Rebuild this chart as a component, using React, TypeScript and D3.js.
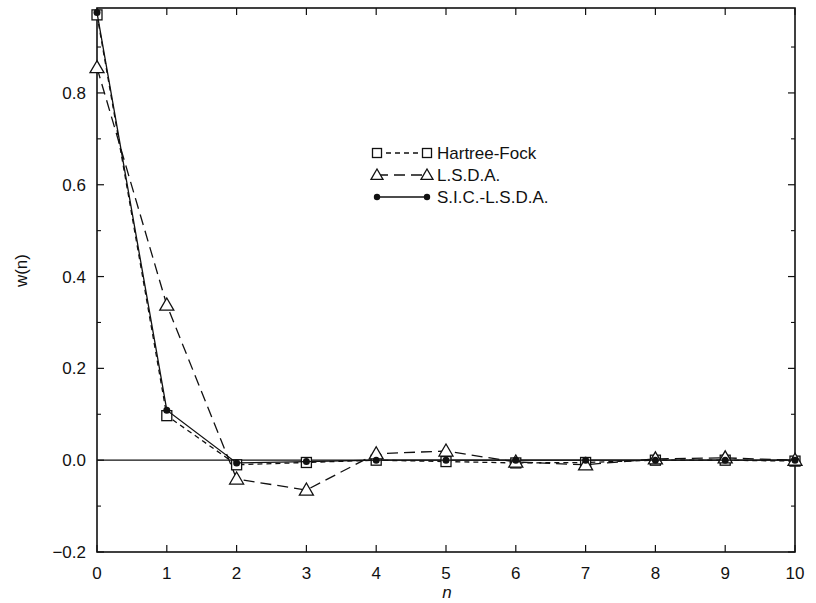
import React from 'react';
import * as d3 from 'd3';

// values
const nValues = [0, 1, 2, 3, 4, 5, 6, 7, 8, 9, 10];
const hartreeFock = [0.97, 0.097, -0.01, -0.005, 0.0, -0.003, -0.006, -0.005, 0.0, 0.0, -0.002];
const lsda = [0.855, 0.338, -0.041, -0.065, 0.014, 0.02, -0.004, -0.01, 0.003, 0.005, 0.0];
const sicLsda = [0.975, 0.109, -0.006, -0.003, 0.0, 0.0, 0.0, 0.0, 0.0, 0.0, 0.0];

const yTickLabels = [-0.2, 0.0, 0.2, 0.4, 0.6, 0.8];
const yMinorTicks = [-0.1, 0.1, 0.3, 0.5, 0.7, 0.9];
const legendNames = ['Hartree-Fock', 'L.S.D.A.', 'S.I.C.-L.S.D.A.'];

const W = 816;
const H = 603;
const font = 'Liberation Sans, Arial, Helvetica, sans-serif';

const Square = ({ x, y, s = 5 }: { x: number; y: number; s?: number }) => (
  <rect x={x - s} y={y - s} width={2 * s} height={2 * s} fill="white" stroke="#111" strokeWidth={1.3} />
);

const Triangle = ({ x, y, s = 7 }: { x: number; y: number; s?: number }) => (
  <path
    d={`M${x},${y - s}L${x + s},${y + s * 0.72}L${x - s},${y + s * 0.72}Z`}
    fill="white"
    stroke="#111"
    strokeWidth={1.3}
  />
);

const Dot = ({ x, y, s = 3.5 }: { x: number; y: number; s?: number }) => <circle cx={x} cy={y} r={s} fill="#111" />;

const App = () => {
  const xScale = d3.scaleLinear().domain([0, 10]).range([97, 795]);
  const yScale = d3.scaleLinear().domain([-0.2, 0.985]).range([552, 8]);

  const [x0, x1] = xScale.range();
  const [yb, yt] = yScale.range();

  const line = (vals: number[]) =>
    d3.line<number>()
      .x((_, i) => xScale(nValues[i]))
      .y((d) => yScale(d))(vals) || '';

  const series = [
    { vals: hartreeFock, dash: '5,4', Marker: Square, ls: 4.5 },
    { vals: lsda, dash: '11,6', Marker: Triangle, ls: 6 },
    { vals: sicLsda, dash: '', Marker: Dot, ls: 3.2 },
  ];

  const legendX = 377;
  const legendX2 = 427;
  const legendY = [153, 175, 197];

  return (
    <svg width={W} height={H} style={{ position: 'absolute', left: 0, top: 0, background: 'white' }}>
      {/* frame */}
      <rect x={x0} y={yt} width={x1 - x0} height={yb - yt} fill="none" stroke="#111" strokeWidth={1.6} />
      {/* zero line */}
      <line x1={x0} x2={x1} y1={yScale(0)} y2={yScale(0)} stroke="#111" strokeWidth={1.3} />

      {/* x ticks */}
      {nValues.map((n) => (
        <g key={'xt' + n}>
          <line x1={xScale(n)} x2={xScale(n)} y1={yb} y2={yb - 7} stroke="#111" strokeWidth={1.2} />
          <line x1={xScale(n)} x2={xScale(n)} y1={yt} y2={yt + 7} stroke="#111" strokeWidth={1.2} />
          <text x={xScale(n)} y={579} textAnchor="middle" fontFamily={font} fontSize={17} fill="#111">
            {n}
          </text>
        </g>
      ))}

      {/* y ticks */}
      {yTickLabels.map((v) => (
        <g key={'yt' + v}>
          <line x1={x0} x2={x0 + 7} y1={yScale(v)} y2={yScale(v)} stroke="#111" strokeWidth={1.2} />
          <line x1={x1} x2={x1 - 7} y1={yScale(v)} y2={yScale(v)} stroke="#111" strokeWidth={1.2} />
          <text x={86} y={yScale(v) + 6} textAnchor="end" fontFamily={font} fontSize={17} fill="#111">
            {d3.format('.1f')(v)}
          </text>
        </g>
      ))}
      {yMinorTicks.map((v) => (
        <g key={'ym' + v}>
          <line x1={x0} x2={x0 + 4} y1={yScale(v)} y2={yScale(v)} stroke="#111" strokeWidth={1.1} />
          <line x1={x1} x2={x1 - 4} y1={yScale(v)} y2={yScale(v)} stroke="#111" strokeWidth={1.1} />
        </g>
      ))}

      {/* axis titles */}
      <text x={447} y={598} textAnchor="middle" fontFamily={font} fontSize={17} fontStyle="italic" fill="#111">
        n
      </text>
      <text
        transform={`translate(27,${yScale(0.4) - 6})rotate(-90)`}
        textAnchor="middle"
        fontFamily={font}
        fontSize={17}
        fill="#111"
      >
        w(n)
      </text>

      {/* series */}
      {series.map((s, si) => (
        <g key={'s' + si}>
          <path d={line(s.vals)} fill="none" stroke="#111" strokeWidth={1.3} strokeDasharray={s.dash || undefined} />
          {s.vals.map((v, i) => (
            <s.Marker key={i} x={xScale(nValues[i])} y={yScale(v)} />
          ))}
        </g>
      ))}

      {/* legend */}
      {series.map((s, si) => (
        <g key={'l' + si}>
          <line
            x1={legendX}
            x2={legendX2}
            y1={legendY[si]}
            y2={legendY[si]}
            stroke="#111"
            strokeWidth={1.3}
            strokeDasharray={s.dash || undefined}
          />
          <s.Marker x={legendX} y={legendY[si]} s={s.ls} />
          <s.Marker x={legendX2} y={legendY[si]} s={s.ls} />
          <text x={437} y={legendY[si] + 6} fontFamily={font} fontSize={17} fill="#111">
            {legendNames[si]}
          </text>
        </g>
      ))}
    </svg>
  );
};

export default App;
